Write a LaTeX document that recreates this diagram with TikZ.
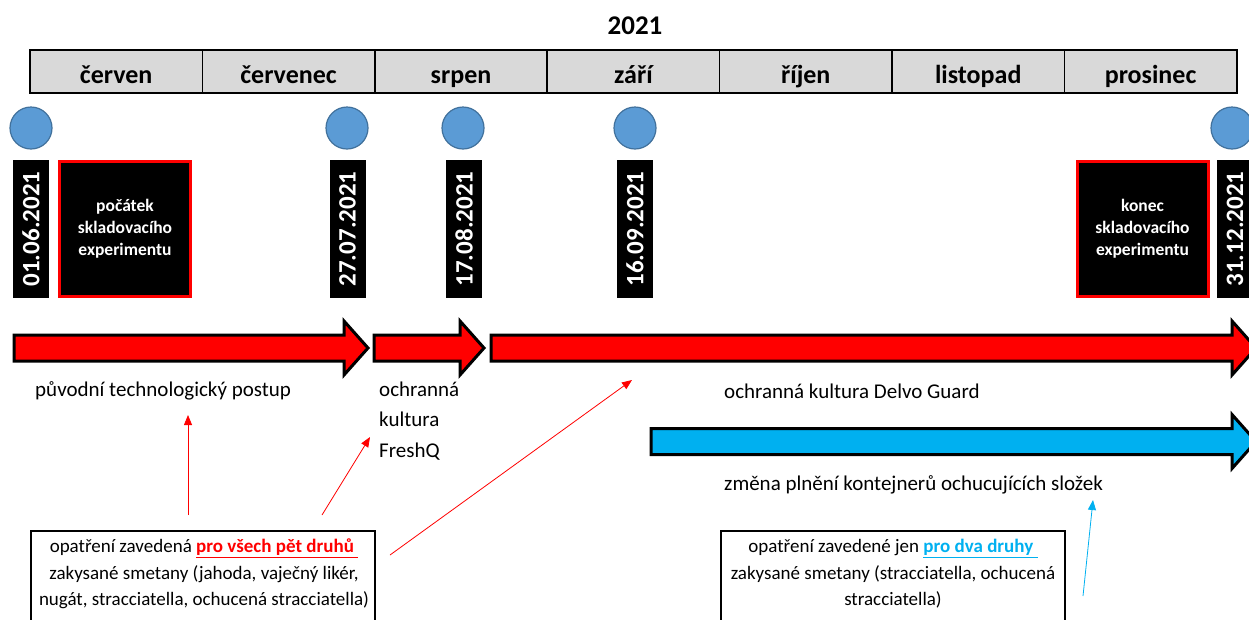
\documentclass[tikz,border=0pt]{standalone}
\usepackage{fontspec}
\setmainfont{Carlito}
\usetikzlibrary{arrows.meta}
\definecolor{dotblue}{RGB}{91,155,213}
\definecolor{dotedge}{RGB}{65,113,156}
\definecolor{monthgray}{RGB}{217,217,217}
\definecolor{skyblue}{RGB}{0,176,240}
\newcommand\fs[2]{\fontsize{#1}{#2}\selectfont}
% block arrow: start x, head base x, tip x, centre y, fill colour
\newcommand\blockarrow[5]{%
  \filldraw[bigarrow, fill=#5] (#1,#4-13) -- (#2,#4-13) -- (#2,#4-27) -- (#3,#4)
    -- (#2,#4+27) -- (#2,#4+13) -- (#1,#4+13) -- cycle;}

\begin{document}
\begin{tikzpicture}[x=1pt,y=-1pt,
  month/.style={draw=black, line width=1.6pt, fill=monthgray, minimum width=172.4pt,
    minimum height=43pt, inner sep=0pt, text height=25pt, text depth=2pt,
    font=\fs{26}{30}\bfseries},
  dot/.style={circle, fill=dotblue, draw=dotedge, line width=1.2pt, minimum size=42pt, inner sep=0pt},
  datebox/.style={fill=black, text=white, rotate=90, minimum width=138pt, minimum height=36pt,
    inner sep=0pt, font=\fs{25}{30}\bfseries},
  eventbox/.style={fill=black, draw=red, line width=3pt, text=white, minimum width=131pt,
    minimum height=135pt, inner sep=0pt, align=center, font=\fs{17.5}{22}\bfseries},
  bigarrow/.style={draw=black, line width=3pt, line join=miter},
  phase/.style={anchor=west, inner sep=0pt, align=left, font=\fs{21}{30.5}},
  notebox/.style={draw=black, line width=1.6pt, inner sep=0pt, minimum width=344.4pt, minimum height=150pt},
  notetext/.style={align=center, inner sep=0pt, font=\fs{19}{26.5}},
  pointer/.style={line width=0.8pt, -{Triangle[length=10pt,width=8pt]}},
]
\useasboundingbox (0,0) rectangle (1249,619);
\clip (0,0) rectangle (1249,619);

% year and month header
\node[font=\fs{27}{30}\bfseries] (year) at (635,26) {2021};
\foreach \m [count=\i] in {červen,červenec,srpen,září,říjen,listopad,prosinec}
  \node[month] (m\i) at ({30+172.4*(\i-0.5)},71.5) {\m};

% milestones
\foreach \xd/\xr/\d [count=\i] in {31/31/01.06.2021, 347/347.5/27.07.2021,
    463/464/17.08.2021, 635/635/16.09.2021, 1232/1235/31.12.2021} {
  \node[dot] (dot\i) at (\xd,128) {};
  \node[datebox] (date\i) at (\xr,229) {\d};
}

% experiment start and end
\node[eventbox] (start) at (125,229) {počátek\\skladovacího\\experimentu};
\node[eventbox] (end) at (1142.5,229) {konec\\skladovacího\\experimentu};

% phases
\blockarrow{14}{344}{368}{348}{red}
\blockarrow{374}{460}{484}{348}{red}
\blockarrow{491}{1232}{1256}{348}{red}
\blockarrow{651}{1232}{1256}{441.5}{skyblue}

\node[phase] (orig) at (35,391) {původní technologický postup};
\node[phase] (fresh) at (379,421) {ochranná\\kultura\\FreshQ};
\node[phase] (delvo) at (724,391) {ochranná kultura Delvo Guard};
\node[phase] (filling) at (724,485) {změna plnění kontejnerů ochucujících složek};

% notes
\node[notebox] (note1) at (203,605.8) {};
\node[notetext] (note1text) at (204,574) {opatření zavedená \textcolor{red}{\bfseries\underline{pro všech pět druhů\ }}\\zakysané smetany (jahoda, vaječný likér,\\nugát, stracciatella, ochucená stracciatella)};
\node[notebox] (note2) at (893,605.8) {};
\node[notetext] (note2text) at (893,574) {opatření zavedené jen \textcolor{skyblue}{\bfseries\underline{pro dva druhy\ }}\\zakysané smetany (stracciatella, ochucená\\stracciatella)};

% pointers from the notes
\coordinate (p1s) at (188,515); \coordinate (p1e) at (188,415);
\coordinate (p2s) at (322,515); \coordinate (p2e) at (370,437);
\coordinate (p3s) at (390,555); \coordinate (p3e) at (632,380);
\coordinate (p4s) at (1083,596); \coordinate (p4e) at (1093,500);
\draw[pointer, red] (p1s) -- (p1e);
\draw[pointer, red] (p2s) -- (p2e);
\draw[pointer, red] (p3s) -- (p3e);
\draw[pointer, skyblue] (p4s) -- (p4e);
\end{tikzpicture}
\end{document}
